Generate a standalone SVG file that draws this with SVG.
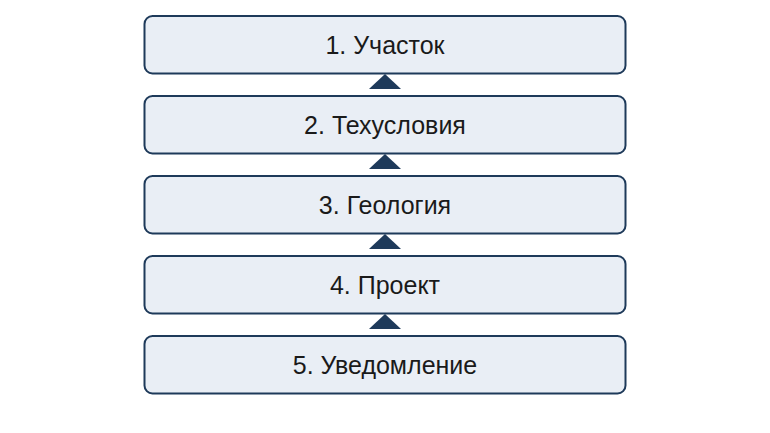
<svg xmlns="http://www.w3.org/2000/svg" width="770" height="433" viewBox="0 0 770 433">
<style>
.box{fill:#e9eef5;stroke:#1e3a5a;stroke-width:2}
.lbl{font-family:"Liberation Sans",Arial,sans-serif;font-size:25px;fill:#1a1a1a;text-anchor:middle}
.arr{fill:#1e3a5a}
</style>
<rect width="770" height="433" fill="#ffffff"/>
<g id="connectors">
<polygon class="arr" points="385,74 401,89 369,89"/>
<polygon class="arr" points="385,154 401,169 369,169"/>
<polygon class="arr" points="385,234 401,249 369,249"/>
<polygon class="arr" points="385,314 401,329 369,329"/>
</g>
<g id="node1"><rect class="box" x="144.5" y="16" width="481" height="57.5" rx="8"/><text class="lbl" x="385" y="54">1. Участок</text></g>
<g id="node2"><rect class="box" x="144.5" y="96" width="481" height="57.5" rx="8"/><text class="lbl" x="385" y="134">2. Техусловия</text></g>
<g id="node3"><rect class="box" x="144.5" y="176" width="481" height="57.5" rx="8"/><text class="lbl" x="385" y="214">3. Геология</text></g>
<g id="node4"><rect class="box" x="144.5" y="256" width="481" height="57.5" rx="8"/><text class="lbl" x="385" y="294">4. Проект</text></g>
<g id="node5"><rect class="box" x="144.5" y="336" width="481" height="57.5" rx="8"/><text class="lbl" x="385" y="374">5. Уведомление</text></g>
</svg>
